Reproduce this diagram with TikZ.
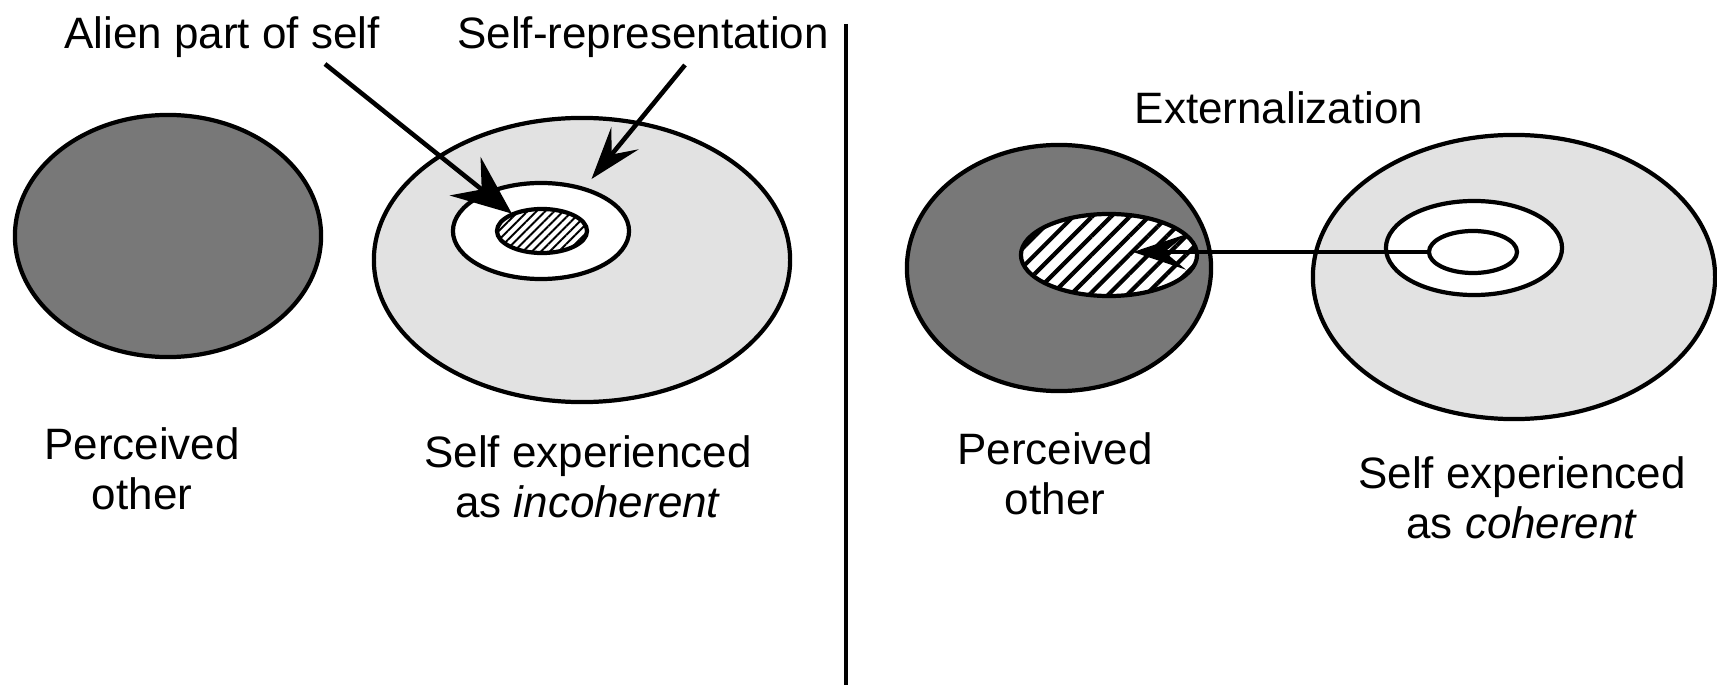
\documentclass[tikz,border=0pt]{standalone}
\usepackage{fontspec}
\setmainfont{Liberation Sans}
\usetikzlibrary{arrows.meta, shapes.geometric, patterns.meta}
\definecolor{othergray}{RGB}{120,120,120}
\definecolor{selfgray}{RGB}{226,226,226}

\begin{document}
\begin{tikzpicture}[x=0.01cm, y=-0.01cm,
  blob/.style={ellipse, draw, line width=1.2pt, inner sep=0pt},
  otherblob/.style={blob, fill=othergray},
  selfblob/.style={blob, fill=selfgray},
  ringblob/.style={blob, fill=white},
  finehatch/.style={blob, preaction={fill=white}, pattern={Lines[angle=45, distance=1.8pt, line width=0.55pt]}},
  widehatch/.style={blob, preaction={fill=white}, pattern={Lines[angle=45, distance=3.8pt, line width=1.2pt]}},
  pointer/.style={-{Stealth[length=15pt, width=10pt, inset=6pt]}, line width=1.3pt},
  bigpointer/.style={-{Stealth[length=17pt, width=14pt, inset=6pt]}, line width=1.3pt},
  lbl/.style={font=\fontsize{12.5}{14.2}\selectfont, inner sep=0pt, align=center}
]
\useasboundingbox (0,0) rectangle (1717,685);

% left half: incoherent self
\node[otherblob, minimum width=3.06cm, minimum height=2.42cm] (otherL) at (168,236) {};
\node[selfblob, minimum width=4.16cm, minimum height=2.84cm] (selfL) at (582,260) {};
\node[ringblob, minimum width=1.76cm, minimum height=0.96cm] (ringL) at (541,231) {};
\node[finehatch, minimum width=0.90cm, minimum height=0.44cm] (alienL) at (542,231) {};

\node[lbl, anchor=base] (alienlbl) at (222,49) {Alien part of self};
\node[lbl, anchor=base] (replbl) at (643,49) {Self-representation};
\coordinate (alienfrom) at (325,64);
\coordinate (repfrom) at (685,65);
\draw[bigpointer] (alienfrom) -- (alienL.150);
\draw[pointer, shorten >=3pt] (repfrom) -- (ringL.45);

\node[lbl] (otherLlbl) at (142,469) {Perceived\\other};
\node[lbl] (selfLlbl) at (588,477) {Self experienced\\as \textit{incoherent}};

% divider
\coordinate (divtop) at (846,24);
\coordinate (divbot) at (846,685);
\draw[line width=1.3pt] (divtop) -- (divbot);

% right half: coherent self
\node[otherblob, minimum width=3.04cm, minimum height=2.46cm] (otherR) at (1059,268) {};
\node[widehatch, minimum width=1.76cm, minimum height=0.82cm] (alienR) at (1109,255) {};
\node[selfblob, minimum width=4.02cm, minimum height=2.84cm] (selfR) at (1514,277) {};
\node[ringblob, minimum width=1.76cm, minimum height=0.94cm] (ringR) at (1474,248) {};
\node[ringblob, minimum width=0.88cm, minimum height=0.42cm] (coreR) at (1473,252) {};

\node[lbl, anchor=base] (extlbl) at (1279,124) {Externalization};
\coordinate (exttip) at (1133,252);
\draw[pointer] (coreR.west) -- (exttip);

\node[lbl] (otherRlbl) at (1055,474) {Perceived\\other};
\node[lbl] (selfRlbl) at (1522,498) {Self experienced\\as \textit{coherent}};
\end{tikzpicture}
\end{document}
